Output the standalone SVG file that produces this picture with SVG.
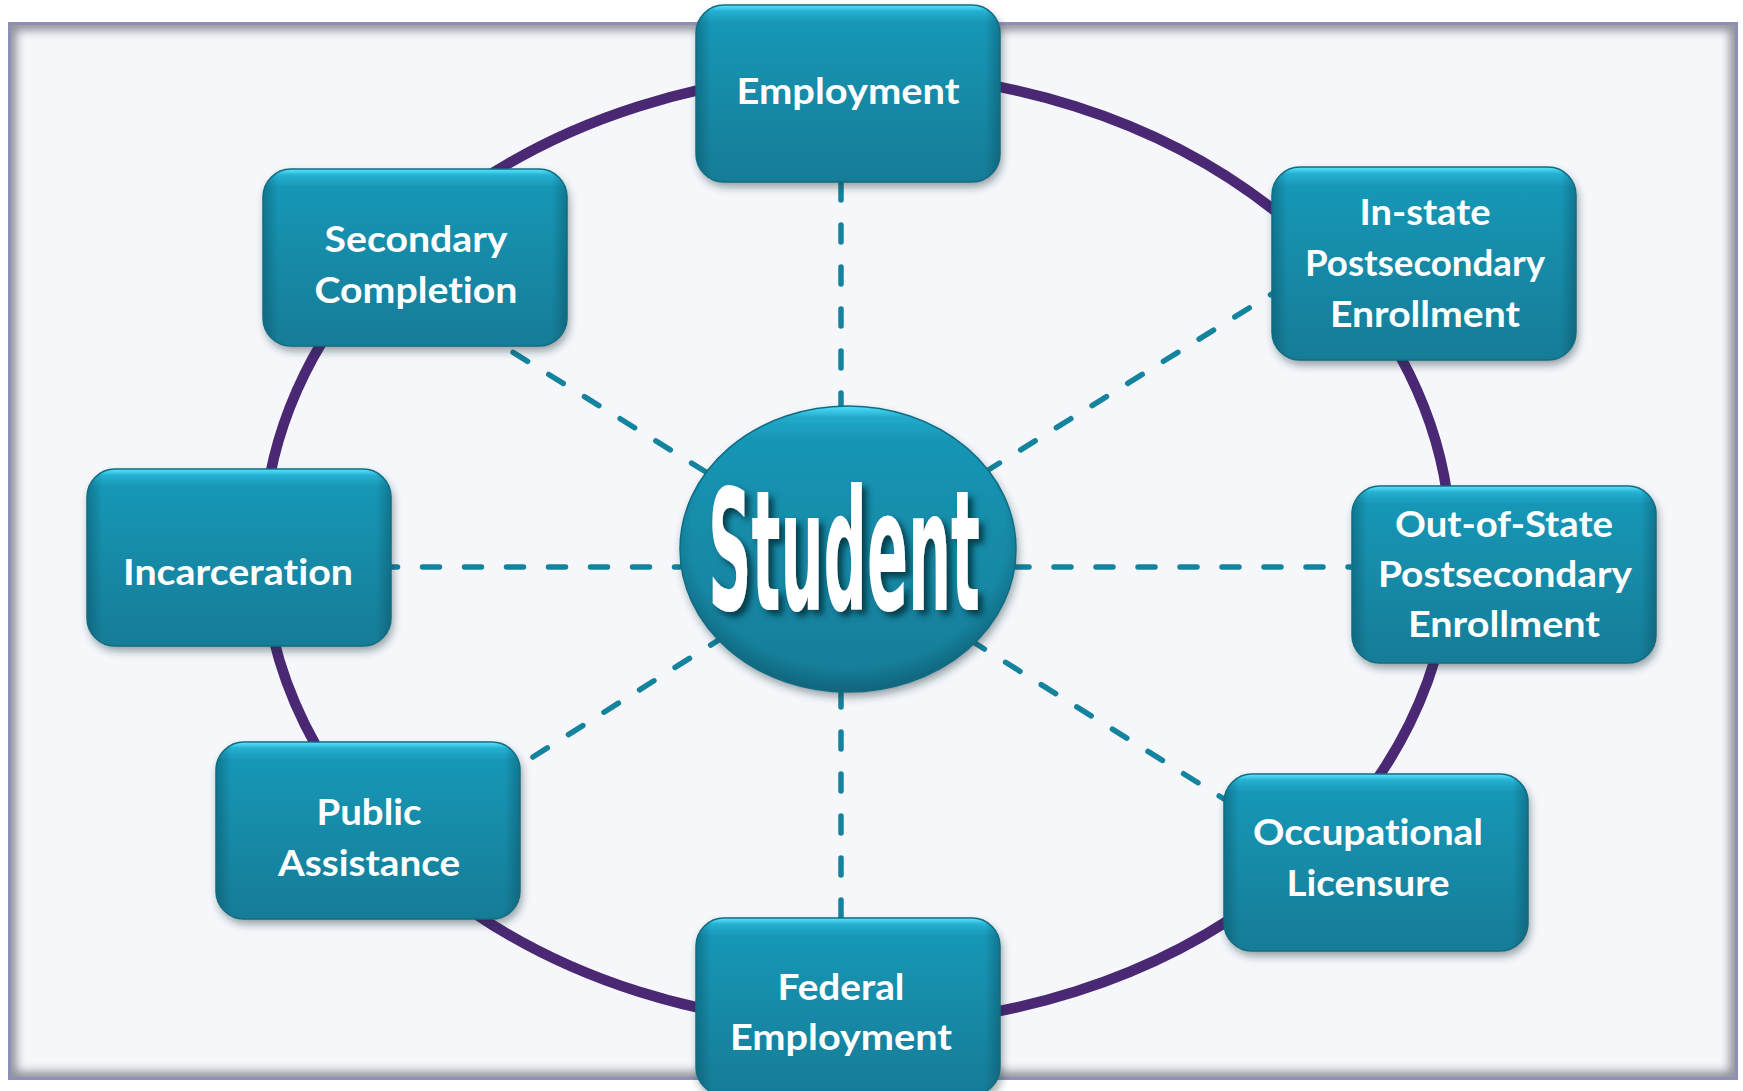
<svg xmlns="http://www.w3.org/2000/svg" width="1743" height="1091" viewBox="0 0 1743 1091">
  <defs>
    <linearGradient id="boxGrad" x1="0" y1="0" x2="0" y2="1">
      <stop offset="0" stop-color="#5ae8ff"/>
      <stop offset="0.035" stop-color="#26b0d2"/>
      <stop offset="0.1" stop-color="#1897b6"/>
      <stop offset="0.55" stop-color="#1689a6"/>
      <stop offset="1" stop-color="#137c97"/>
    </linearGradient>
    <linearGradient id="sideShade" x1="0" y1="0" x2="1" y2="0">
      <stop offset="0" stop-color="#053a4a" stop-opacity="0.35"/>
      <stop offset="0.05" stop-color="#053a4a" stop-opacity="0"/>
      <stop offset="0.95" stop-color="#053a4a" stop-opacity="0"/>
      <stop offset="1" stop-color="#053a4a" stop-opacity="0.35"/>
    </linearGradient>
    <linearGradient id="ellGrad" x1="0" y1="0" x2="0" y2="1">
      <stop offset="0" stop-color="#4fe0fa"/>
      <stop offset="0.04" stop-color="#22a9cb"/>
      <stop offset="0.12" stop-color="#1895b4"/>
      <stop offset="0.6" stop-color="#1688a5"/>
      <stop offset="1" stop-color="#137b96"/>
    </linearGradient>
    <radialGradient id="ellEdge" cx="0.5" cy="0.45" r="0.55">
      <stop offset="0.85" stop-color="#053a4a" stop-opacity="0"/>
      <stop offset="1" stop-color="#053a4a" stop-opacity="0.35"/>
    </radialGradient>
    <filter id="shadow" x="-10%" y="-10%" width="125%" height="130%">
      <feDropShadow dx="2" dy="5" stdDeviation="4" flood-color="#1a2a30" flood-opacity="0.45"/>
    </filter>
    <filter id="txtShadow" x="-10%" y="-10%" width="130%" height="130%">
      <feDropShadow dx="5" dy="5" stdDeviation="3" flood-color="#04303c" flood-opacity="0.85"/>
    </filter>
    <filter id="innerBlur" x="-5%" y="-5%" width="110%" height="110%">
      <feGaussianBlur stdDeviation="5"/>
    </filter>
    <clipPath id="frameClip">
      <rect x="11" y="25" width="1724" height="1052"/>
    </clipPath>
    <style>
      .box { fill: url(#boxGrad); filter: url(#shadow); }
      .shade { fill: url(#sideShade); stroke: #0f6d83; stroke-width: 1.5; }
      .lbl { font-family: Lato, "Open Sans", "Liberation Sans", sans-serif; font-weight: 700; font-size: 37px; fill: #ffffff; text-anchor: middle; font-variant-ligatures: none; font-feature-settings: "liga" 0, "clig" 0; }
      .spoke { stroke: #14839d; stroke-width: 5.5; stroke-dasharray: 17 25; stroke-linecap: round; fill: none; }
      .ring { fill: none; stroke: #4b2873; stroke-width: 10.5; }
    </style>
  </defs>

  <rect x="0" y="0" width="1743" height="1091" fill="#ffffff"/>

  <g id="frame">
    <rect x="9.5" y="23.5" width="1727" height="1055" fill="#f5f7fb"/>
    <g clip-path="url(#frameClip)">
      <rect x="9.5" y="23.5" width="1727" height="1055" fill="none" stroke="#6f7078" stroke-width="14" filter="url(#innerBlur)" opacity="0.75"/>
    </g>
    <rect x="9.5" y="23.5" width="1727" height="1055" fill="none" stroke="#8c8fb8" stroke-width="3"/>
  </g>

  <g id="ring">
    <ellipse class="ring" cx="857" cy="549" rx="594" ry="476"/>
  </g>

  <g id="connectors">
    <line class="spoke" x1="841" y1="410" x2="841" y2="170"/>
    <line class="spoke" x1="841" y1="690" x2="841" y2="930"/>
    <line class="spoke" x1="380.5" y1="567" x2="683" y2="567"/>
    <line class="spoke" x1="1012" y1="567" x2="1360" y2="567"/>
    <line class="spoke" x1="706" y1="472" x2="490" y2="338"/>
    <line class="spoke" x1="985" y1="472" x2="1275" y2="292"/>
    <line class="spoke" x1="725" y1="636" x2="525" y2="762"/>
    <line class="spoke" x1="970" y1="640" x2="1232" y2="804"/>
  </g>

  <g id="node-employment">
    <rect class="box" x="696" y="5" width="304" height="177" rx="28"/>
    <rect class="shade" x="696" y="5" width="304" height="177" rx="28"/>
    <text class="lbl" x="848" y="104" textLength="223" lengthAdjust="spacingAndGlyphs">Employment</text>
  </g>

  <g id="node-secondary-completion">
    <rect class="box" x="263" y="169" width="304" height="177" rx="28"/>
    <rect class="shade" x="263" y="169" width="304" height="177" rx="28"/>
    <text class="lbl" x="416" y="252" textLength="183" lengthAdjust="spacingAndGlyphs">Secondary</text>
    <text class="lbl" x="416" y="303" textLength="203" lengthAdjust="spacingAndGlyphs">Completion</text>
  </g>

  <g id="node-instate">
    <rect class="box" x="1272" y="167" width="304" height="193" rx="28"/>
    <rect class="shade" x="1272" y="167" width="304" height="193" rx="28"/>
    <text class="lbl" x="1425" y="225" textLength="131" lengthAdjust="spacingAndGlyphs">In-state</text>
    <text class="lbl" x="1425" y="276" textLength="240" lengthAdjust="spacingAndGlyphs">Postsecondary</text>
    <text class="lbl" x="1425" y="327" textLength="190" lengthAdjust="spacingAndGlyphs">Enrollment</text>
  </g>

  <g id="node-incarceration">
    <rect class="box" x="87" y="469" width="304" height="177" rx="28"/>
    <rect class="shade" x="87" y="469" width="304" height="177" rx="28"/>
    <text class="lbl" x="238" y="585" textLength="230" lengthAdjust="spacingAndGlyphs">Incarceration</text>
  </g>

  <g id="node-outofstate">
    <rect class="box" x="1352" y="486" width="304" height="177" rx="28"/>
    <rect class="shade" x="1352" y="486" width="304" height="177" rx="28"/>
    <text class="lbl" x="1504" y="537" textLength="218" lengthAdjust="spacingAndGlyphs">Out-of-State</text>
    <text class="lbl" x="1505" y="587" textLength="254" lengthAdjust="spacingAndGlyphs">Postsecondary</text>
    <text class="lbl" x="1504" y="637" textLength="192" lengthAdjust="spacingAndGlyphs">Enrollment</text>
  </g>

  <g id="node-public-assistance">
    <rect class="box" x="216" y="742" width="304" height="177" rx="28"/>
    <rect class="shade" x="216" y="742" width="304" height="177" rx="28"/>
    <text class="lbl" x="369" y="825" textLength="105" lengthAdjust="spacingAndGlyphs">Public</text>
    <text class="lbl" x="369" y="876" textLength="182" lengthAdjust="spacingAndGlyphs">Assistance</text>
  </g>

  <g id="node-occupational-licensure">
    <rect class="box" x="1224" y="774" width="304" height="177" rx="28"/>
    <rect class="shade" x="1224" y="774" width="304" height="177" rx="28"/>
    <text class="lbl" x="1368" y="845" textLength="230" lengthAdjust="spacingAndGlyphs">Occupational</text>
    <text class="lbl" x="1368" y="896" textLength="163" lengthAdjust="spacingAndGlyphs">Licensure</text>
  </g>

  <g id="node-federal-employment">
    <rect class="box" x="696" y="918" width="304" height="177" rx="28"/>
    <rect class="shade" x="696" y="918" width="304" height="177" rx="28"/>
    <text class="lbl" x="841" y="1000" textLength="127" lengthAdjust="spacingAndGlyphs">Federal</text>
    <text class="lbl" x="841" y="1050" textLength="222" lengthAdjust="spacingAndGlyphs">Employment</text>
  </g>

  <g id="node-student">
    <ellipse cx="848" cy="549" rx="168" ry="143" fill="url(#ellGrad)" filter="url(#shadow)"/>
    <ellipse cx="848" cy="549" rx="168" ry="143" fill="url(#ellEdge)" stroke="#0f6d83" stroke-width="1.5"/>
    <text x="844" y="610" font-family="'Liberation Sans Narrow', 'DejaVu Sans Condensed', 'Liberation Sans', sans-serif" font-weight="700" font-size="168" fill="#ffffff" text-anchor="middle" textLength="272" lengthAdjust="spacingAndGlyphs" filter="url(#txtShadow)">Student</text>
  </g>
</svg>
